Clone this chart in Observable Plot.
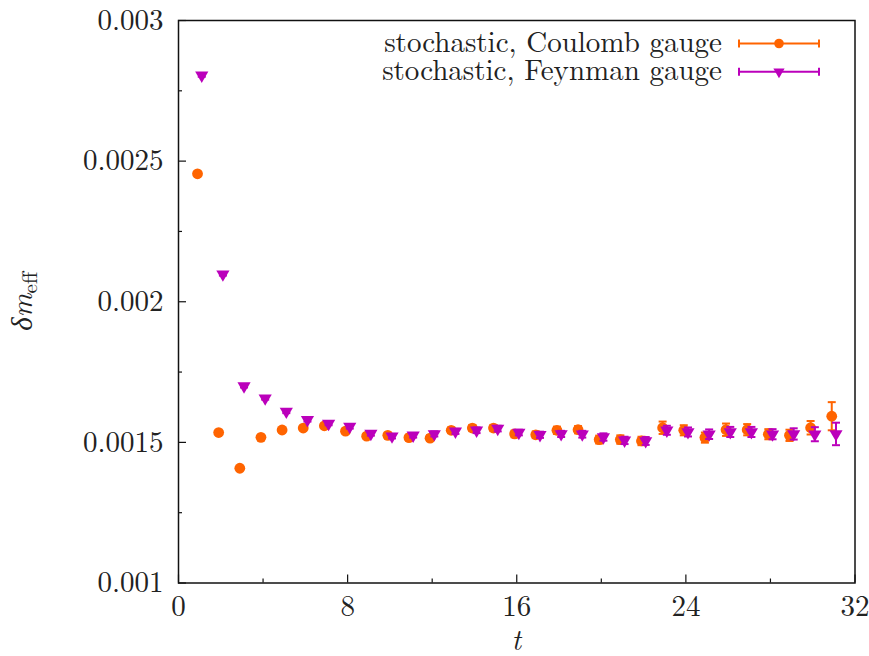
<!DOCTYPE html>
<html>
<head>
<meta charset="utf-8">
<script src="https://cdn.jsdelivr.net/npm/d3@7"></script>
<script src="https://cdn.jsdelivr.net/npm/@observablehq/plot@0.6"></script>
<style>
  html, body { margin: 0; padding: 0; background: #fff; }
  #chart svg { display: block; }
</style>
</head>
<body>
<div id="chart"></div>
<script>
// ---- data ----
const t = [1,2,3,4,5,6,7,8,9,10,11,12,13,14,15,16,17,18,19,20,21,22,23,24,25,26,27,28,29,30,31];
const coulomb = [0.002455,0.001535,0.001408,0.001518,0.001544,0.001551,0.001559,0.00154,0.001522,0.001525,
  0.001517,0.001515,0.001543,0.001551,0.001551,0.00153,0.001527,0.001543,0.001545,0.00151,
  0.00151,0.001505,0.001552,0.001543,0.001517,0.001545,0.001545,0.001529,0.001525,0.001552,0.001593];
const coulombErr = [0.000005,0.000006,0.000004,0.000005,0.000005,0.000006,0.000007,0.000008,0.000008,0.000009,
  0.00001,0.00001,0.00001,0.000011,0.000011,0.000012,0.000012,0.000013,0.000013,0.000014,
  0.000015,0.000015,0.000022,0.000018,0.000018,0.000022,0.00002,0.000018,0.00002,0.000024,0.00005];
const feynman = [0.002805,0.002098,0.0017,0.001657,0.00161,0.00158,0.001567,0.001556,0.001531,0.001522,
  0.001525,0.00153,0.001539,0.001543,0.001549,0.001535,0.001527,0.00153,0.001529,0.001519,
  0.001507,0.001505,0.001543,0.001537,0.001529,0.001537,0.001537,0.001529,0.00153,0.001529,0.00153];
const feynmanErr = [0.000005,0.000005,0.000005,0.000005,0.000006,0.000006,0.000006,0.000007,0.000007,0.000008,
  0.000008,0.000009,0.000009,0.00001,0.00001,0.00001,0.000011,0.000011,0.000012,0.000013,
  0.000013,0.000014,0.000016,0.000016,0.000017,0.000018,0.000018,0.000018,0.00002,0.000025,0.00004];
const seriesNames = ["stochastic, Coulomb gauge", "stochastic, Feynman gauge"];
const seriesColors = ["#ff6400", "#bb00bb"];
const shift = [-0.1, 0.1];   // horizontal offset of the two series in t
const xMajor = [0, 8, 16, 24, 32];
const xMinor = [4, 12, 20, 28];
const yMajor = [0.001, 0.0015, 0.002, 0.0025, 0.003];
const yMinor = [0.00125, 0.00175, 0.00225, 0.00275];

// ---- build table ----
const rowsC = t.map((d, i) => ({t: d + shift[0], v: coulomb[i], lo: coulomb[i] - coulombErr[i], hi: coulomb[i] + coulombErr[i]}));
const rowsF = t.map((d, i) => ({t: d + shift[1], v: feynman[i], lo: feynman[i] - feynmanErr[i], hi: feynman[i] + feynmanErr[i]}));

const W = 869, H = 656;
const mL = 178, mR = 14.5, mT = 20, mB = 73.5;
const frameW = W - mL - mR, frameH = H - mT - mB;
const font = "'Latin Modern Roman', 'Liberation Serif', serif";

const cap = {draw(ctx) { ctx.moveTo(-4, 0); ctx.lineTo(4, 0); }};

function errMarks(rows, color) {
  return [
    Plot.ruleX(rows, {x: "t", y1: "lo", y2: "hi", stroke: color, strokeWidth: 2}),
    Plot.dot(rows, {x: "t", y: "lo", symbol: cap, stroke: color, strokeWidth: 2, fill: "none"}),
    Plot.dot(rows, {x: "t", y: "hi", symbol: cap, stroke: color, strokeWidth: 2, fill: "none"})
  ];
}

const chart = Plot.plot({
  width: W, height: H,
  marginLeft: mL, marginRight: mR, marginTop: mT, marginBottom: mB,
  style: {fontFamily: font, fontSize: "29px", color: "#222", background: "#fff"},
  x: {domain: [0, 32]},
  y: {domain: [0.001, 0.003]},
  marks: [
    Plot.axisX(xMajor, {tickSize: 0, tickPadding: 12, label: null, fontSize: 29, fill: "#222"}),
    Plot.axisY(yMajor, {tickSize: 0, tickPadding: 15, label: null, fontSize: 29, fill: "#222",
      tickFormat: d => String(+d.toFixed(5))}),
    Plot.tickX(xMajor, {x: d => d, insetTop: frameH - 8, stroke: "#111", strokeWidth: 1.2}),
    Plot.tickX(xMinor, {x: d => d, insetTop: frameH - 4, stroke: "#111", strokeWidth: 1.2}),
    Plot.tickY(yMajor, {y: d => d, insetRight: frameW - 8, stroke: "#111", strokeWidth: 1.2}),
    Plot.tickY(yMinor, {y: d => d, insetRight: frameW - 4, stroke: "#111", strokeWidth: 1.2}),
    ...errMarks(rowsC, seriesColors[0]),
    Plot.dot(rowsC, {x: "t", y: "v", r: 5.4, fill: seriesColors[0], symbol: "circle"}),
    ...errMarks(rowsF, seriesColors[1]),
    Plot.dot(rowsF, {x: "t", y: "v", r: 4.9, fill: seriesColors[1], symbol: "triangle", rotate: 180}),
    Plot.frame({stroke: "#111", strokeWidth: 1.5})
  ]
});

document.getElementById("chart").appendChild(chart);

// ---- axis titles and legend ----
const svg = d3.select(chart);
svg.append("text")
  .attr("x", mL + frameW / 2).attr("y", 650)
  .attr("text-anchor", "middle")
  .style("font-family", font).style("font-size", "29px").style("font-style", "italic").attr("fill", "#222")
  .text("t");

const yl = svg.append("text")
  .attr("transform", `translate(32, ${mT + frameH / 2}) rotate(-90)`)
  .attr("text-anchor", "middle")
  .style("font-family", font).style("font-size", "29px").attr("fill", "#222");
yl.append("tspan").style("font-style", "italic").text("δm");
yl.append("tspan").attr("dy", "0.22em").style("font-size", "21px").text("eff");

const legRows = [43.5, 71.8];
const lx1 = 739, lx2 = 819, lxm = 779, textRight = 722;
seriesNames.forEach((name, i) => {
  const y = legRows[i], c = seriesColors[i];
  svg.append("text").attr("x", textRight).attr("y", y + 8.5).attr("text-anchor", "end")
    .style("font-family", font).style("font-size", "29px").attr("fill", "#222").text(name);
  svg.append("line").attr("x1", lx1).attr("x2", lx2).attr("y1", y).attr("y2", y).attr("stroke", c).attr("stroke-width", 2);
  svg.append("line").attr("x1", lx1).attr("x2", lx1).attr("y1", y - 4).attr("y2", y + 4).attr("stroke", c).attr("stroke-width", 2);
  svg.append("line").attr("x1", lx2).attr("x2", lx2).attr("y1", y - 4).attr("y2", y + 4).attr("stroke", c).attr("stroke-width", 2);
  if (i === 0) {
    svg.append("circle").attr("cx", lxm).attr("cy", y).attr("r", 4.8).attr("fill", c);
  } else {
    svg.append("path").attr("d", d3.symbol(d3.symbolTriangle, 55)()).attr("transform", `translate(${lxm},${y}) rotate(180)`).attr("fill", c);
  }
});
</script>
</body>
</html>
